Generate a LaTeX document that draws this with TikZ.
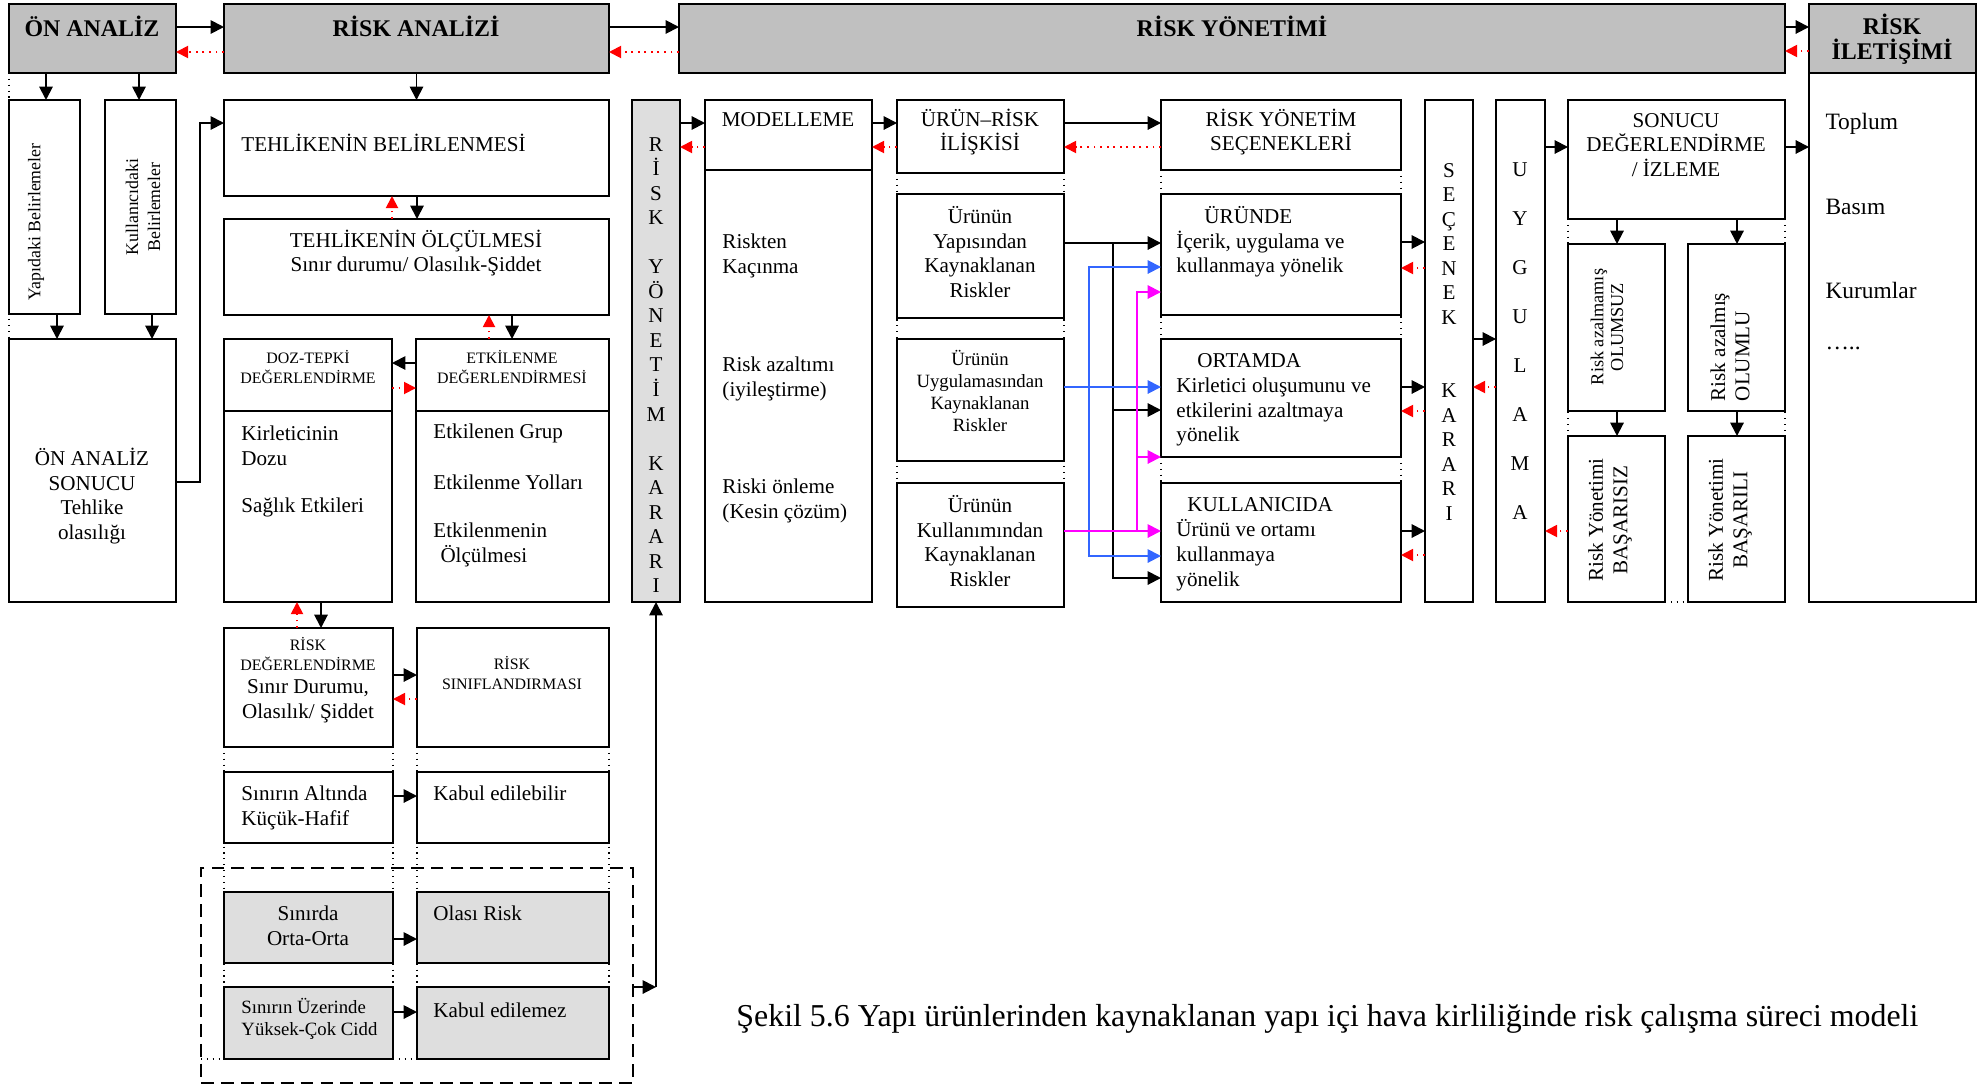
\documentclass[tikz,border=0pt]{standalone}
\usepackage{fontspec}
\setmainfont{Liberation Serif}
\usetikzlibrary{arrows.meta}
\definecolor{gri}{RGB}{192,192,192}
\definecolor{nokta}{RGB}{222,222,222}
\definecolor{mavi}{RGB}{51,102,255}
\definecolor{pembe}{RGB}{255,0,255}

\begin{document}
\begin{tikzpicture}[x=0.015cm, y=-0.015cm,
    kutu/.style={draw, line width=1pt, fill=white, inner sep=0pt, outer sep=0pt, anchor=north west},
    boyut/.style 2 args={minimum width=#1*0.015cm, minimum height=#2*0.015cm},
    baslik/.style={kutu, fill=gri, line width=1.15pt},
    golge/.style={kutu, fill=nokta},
    izgara/.style={dotted, line width=0.5pt},
    ok/.style={-{Triangle[length=0.2cm, width=0.2cm]}, line width=0.8pt},
    iki/.style={{Triangle[length=0.2cm, width=0.2cm]}-{Triangle[length=0.2cm, width=0.2cm]}, line width=0.8pt},
    geri/.style={-{Triangle[length=0.18cm, width=0.18cm]}, red, dotted, line width=0.8pt},
    yazi/.style={inner sep=0pt, align=left, font=\fontsize{9}{10.6}\selectfont},
    yazi8/.style={yazi, font=\fontsize{8}{9.4}\selectfont},
    yazi10/.style={yazi, font=\fontsize{10}{12}\selectfont},
    orta/.style={yazi, align=center},
    orta8/.style={orta, font=\fontsize{8}{9.3}\selectfont},
    kucuk/.style={orta, font=\fontsize{6.8}{8.2}\selectfont},
    kalin/.style={orta, font=\fontsize{10.2}{10.6}\selectfont\bfseries},
    dondur/.style={orta, rotate=90, font=\fontsize{7.8}{8.5}\selectfont},
    dondur9/.style={orta, rotate=90, font=\fontsize{9}{10.4}\selectfont},
    harf/.style={inner sep=0pt, anchor=base, font=\fontsize{9}{10.6}\selectfont}]

    \useasboundingbox (0,0) rectangle (1984,1087);

    % kutular
    \node[baslik, boyut={167}{69}] (onanaliz) at (9,4) {};
    \node[baslik, boyut={385}{69}] (riskanalizi) at (224,4) {};
    \node[baslik, boyut={1106}{69}] (riskyonetimi) at (679,4) {};
    \node[baslik, boyut={167}{69}] (iletbaslik) at (1809,4) {};
    \node[kutu, boyut={167}{529}] (iletgovde) at (1809,73) {};

    \draw[izgara] (onanaliz.south west) -- (9,339);
    \draw[izgara] (897,173) -- (897,483);
    \draw[izgara] (1064,173) -- (1064,483);
    \draw[izgara] (1161,170) -- (1161,483);
    \draw[izgara] (1401,170) -- (1401,483);
    \draw[izgara] (1568,219) -- (1568,436);
    \draw[izgara] (1785,219) -- (1785,436);
    \draw[izgara] (1665,602) -- (1688,602);
    \draw[izgara] (224,747) -- (224,987);
    \draw[izgara] (393,747) -- (393,987);
    \draw[izgara] (417,747) -- (417,987);
    \draw[izgara] (609,747) -- (609,987);
    \draw[izgara] (201,1059) -- (224,1059);
    \draw[izgara] (393,1059) -- (417,1059);

    \node[kutu, boyut={71}{214}] (yapidaki) at (9,100) {};
    \node[kutu, boyut={71}{214}] (kullanici) at (105,100) {};
    \node[kutu, boyut={167}{263}] (onsonuc) at (9,339) {};
    \node[kutu, boyut={385}{96}] (belirleme) at (224,100) {};
    \node[kutu, boyut={385}{96}] (olcum) at (224,219) {};
    \node[kutu, boyut={168}{72}] (dozbas) at (224,339) {};
    \node[kutu, boyut={168}{191}] (dozgovde) at (224,411) {};
    \node[kutu, boyut={193}{72}] (etkibas) at (416,339) {};
    \node[kutu, boyut={193}{191}] (etkigovde) at (416,411) {};
    \node[kutu, boyut={169}{119}] (riskdeg) at (224,628) {};
    \node[kutu, boyut={192}{119}] (risksinif) at (417,628) {};
    \node[kutu, boyut={169}{71}] (altinda) at (224,772) {};
    \node[kutu, boyut={192}{71}] (kabul) at (417,772) {};
    \node[kutu, fill=none, dash pattern=on 5.5pt off 3pt, boyut={432}{215}] (cerceve) at (201,868) {};
    \node[golge, boyut={169}{71}] (sinirda) at (224,892) {};
    \node[golge, boyut={192}{71}] (olasi) at (417,892) {};
    \node[golge, boyut={169}{72}] (uzerinde) at (224,987) {};
    \node[golge, boyut={192}{72}] (kabulno) at (417,987) {};
    \node[golge, boyut={48}{502}] (rykarar) at (632,100) {};
    \node[kutu, boyut={167}{70}] (modbas) at (705,100) {};
    \node[kutu, boyut={167}{432}] (modgovde) at (705,170) {};
    \node[kutu, boyut={167}{73}] (urunrisk) at (897,100) {};
    \node[kutu, boyut={167}{124}] (yapisindan) at (897,194) {};
    \node[kutu, boyut={167}{122}] (uygulamasindan) at (897,339) {};
    \node[kutu, boyut={167}{124}] (kullanimindan) at (897,483) {};
    \node[kutu, boyut={240}{70}] (secenekler) at (1161,100) {};
    \node[kutu, boyut={240}{121}] (urunde) at (1161,194) {};
    \node[kutu, boyut={240}{118}] (ortamda) at (1161,339) {};
    \node[kutu, boyut={240}{119}] (kullanicida) at (1161,483) {};
    \node[kutu, boyut={48}{502}] (secenekkarar) at (1425,100) {};
    \node[kutu, boyut={49}{502}] (uygulama) at (1496,100) {};
    \node[kutu, boyut={217}{119}] (sonucu) at (1568,100) {};
    \node[kutu, boyut={97}{167}] (olumsuz) at (1568,244) {};
    \node[kutu, boyut={97}{167}] (olumlu) at (1688,244) {};
    \node[kutu, boyut={97}{166}] (basarisiz) at (1568,436) {};
    \node[kutu, boyut={97}{166}] (basarili) at (1688,436) {};

    % yazilar
    \node[kalin] (tonanaliz) at (92,26) {ÖN ANALİZ};
    \node[kalin] (triskanalizi) at (416,26) {RİSK ANALİZİ};
    \node[kalin] (triskyonetimi) at (1232,26) {RİSK YÖNETİMİ};
    \node[kalin] (tilet) at (1892,39) {RİSK\\İLETİŞİMİ};
    \node[orta, rotate=90, font=\fontsize{7.6}{9.4}\selectfont] (tyapidaki) at (36,222) {Yapıdaki Belirlemeler};
    \node[orta, rotate=90, font=\fontsize{7.6}{9.4}\selectfont] (tkullanici) at (143,207) {Kullanıcıdaki\\Belirlemeler};
    \node[orta] (tonsonuc) at (92,496) {ÖN ANALİZ\\SONUCU\\Tehlike\\olasılığı};
    \node[yazi, anchor=west] (tbelirleme) at (241,143) {TEHLİKENİN BELİRLENMESİ};
    \node[orta] (tolcum) at (416,253) {TEHLİKENİN ÖLÇÜLMESİ\\Sınır durumu/ Olasılık-Şiddet};
    \node[kucuk] (tdoz) at (308,367) {DOZ-TEPKİ\\DEĞERLENDİRME};
    \node[kucuk] (tetki) at (512,367) {ETKİLENME\\DEĞERLENDİRMESİ};
    \node[yazi, anchor=west] (tkirletici) at (241,446) {Kirleticinin\\Dozu};
    \node[yazi, anchor=west] (tsaglik) at (241,507) {Sağlık Etkileri};
    \node[yazi, anchor=west] (tgrup) at (433,433) {Etkilenen Grup};
    \node[yazi, anchor=west] (tyol) at (433,482) {Etkilenme Yolları};
    \node[yazi, anchor=west] (tolculme) at (433,545) {Etkilenmenin\\\hspace*{3pt}Ölçülmesi};
    \node[kucuk] (triskdeg) at (308,654) {RİSK\\DEĞERLENDİRME};
    \node[orta] (tsinir) at (308,701) {Sınır Durumu,\\Olasılık/ Şiddet};
    \node[kucuk] (tsinif) at (512,673) {RİSK\\SINIFLANDIRMASI};
    \node[yazi, anchor=west] (taltinda) at (241,808) {Sınırın Altında\\Küçük-Hafif};
    \node[yazi, anchor=west] (tkabul) at (433,793) {Kabul edilebilir};
    \node[orta] (tsinirda) at (308,926) {Sınırda\\Orta-Orta};
    \node[yazi, anchor=west] (tolasi) at (433,913) {Olası Risk};
    \node[yazi8, anchor=west] (tuzerinde) at (241,1019) {Sınırın Üzerinde\\Yüksek-Çok Cidd};
    \node[yazi, anchor=west] (tkabulno) at (433,1010) {Kabul edilemez};
    \node[orta] (tmodelleme) at (788,120) {MODELLEME};
    \node[yazi, anchor=west] (tkacinma) at (722,256) {Riskten\\Kaçınma};
    \node[yazi, anchor=west] (tazaltim) at (722,379) {Risk azaltımı\\(iyileştirme)};
    \node[yazi, anchor=west] (tonleme) at (722,501) {Riski önleme\\(Kesin çözüm)};
    \node[orta] (turunrisk) at (980,132) {ÜRÜN–RİSK\\İLİŞKİSİ};
    \node[orta] (tsecenekler) at (1281,132) {RİSK YÖNETİM\\SEÇENEKLERİ};
    \node[orta] (tyapisindan) at (980,252) {Ürünün\\Yapısından\\Kaynaklanan\\Riskler};
    \node[orta8] (tuygulamasindan) at (980,391) {Ürünün\\Uygulamasından\\Kaynaklanan\\Riskler};
    \node[orta] (tkullanimindan) at (980,541) {Ürünün\\Kullanımından\\Kaynaklanan\\Riskler};
    \node[yazi, anchor=west] (turunde) at (1204,215) {ÜRÜNDE};
    \node[yazi, anchor=west] (ticerik) at (1176,254) {İçerik, uygulama ve\\kullanmaya yönelik};
    \node[yazi, anchor=west] (tortamda) at (1197,361) {ORTAMDA};
    \node[yazi, anchor=west] (tkirlet) at (1176,412) {Kirletici oluşumunu ve\\etkilerini azaltmaya\\yönelik};
    \node[yazi, anchor=west] (tkullanicida) at (1187,505) {KULLANICIDA};
    \node[yazi, anchor=west] (turunu) at (1176,555) {Ürünü ve ortamı\\kullanmaya\\yönelik};
    \node[orta] (tsonucu) at (1676,145) {SONUCU\\DEĞERLENDİRME\\/ İZLEME};
    \node[dondur] (tolumsuz) at (1607,327) {Risk azalmamış\\OLUMSUZ};
    \node[dondur9, align=left] (tolumlu) at (1730,347) {Risk azalmış\\OLUMLU};
    \node[dondur9] (tbasarisiz) at (1610,520) {Risk Yönetimi\\BAŞARISIZ};
    \node[dondur9] (tbasarili) at (1730,520) {Risk Yönetimi\\BAŞARILI};
    \node[yazi10, anchor=west] (ttoplum) at (1825,124) {Toplum};
    \node[yazi10, anchor=west] (tbasim) at (1825,207) {Basım};
    \node[yazi10, anchor=west] (tkurumlar) at (1825,290) {Kurumlar};
    \node[yazi10, anchor=west] (tnokta) at (1825,348) {…..};
    \node[inner sep=0pt, anchor=west, font=\fontsize{13.6}{16}\selectfont] (sekil) at (736,1019) {Şekil 5.6 Yapı ürünlerinden kaynaklanan yapı içi hava kirliliğinde risk çalışma süreci modeli};

    \foreach \h [count=\i] in {R,İ,S,K,,Y,Ö,N,E,T,İ,M,,K,A,R,A,R,I}
        \node[harf] (ryk\i) at (656,{151+(\i-1)*24.55}) {\h};
    \foreach \h [count=\i] in {S,E,Ç,E,N,E,K,,,K,A,R,A,R,I}
        \node[harf] (sk\i) at (1449,{177+(\i-1)*24.5}) {\h};
    \foreach \h [count=\i] in {U,Y,G,U,L,A,M,A}
        \node[harf] (uy\i) at (1520,{176+(\i-1)*49.1}) {\h};

    % oklar
    \draw[ok] (onanaliz.east |- 0,27) -- (riskanalizi.west |- 0,27);
    \draw[geri] (riskanalizi.west |- 0,52) -- (onanaliz.east |- 0,52);
    \draw[ok] (riskanalizi.east |- 0,27) -- (riskyonetimi.west |- 0,27);
    \draw[geri] (riskyonetimi.west |- 0,52) -- (riskanalizi.east |- 0,52);
    \draw[ok] (riskyonetimi.east |- 0,27) -- (iletbaslik.west |- 0,27);
    \draw[geri] (iletbaslik.west |- 0,51) -- (riskyonetimi.east |- 0,51);
    \draw[ok] (onanaliz.south -| 46,0) -- (yapidaki.north -| 46,0);
    \draw[ok] (onanaliz.south -| 139,0) -- (kullanici.north -| 139,0);
    \draw[ok] (yapidaki.south -| 57,0) -- (onsonuc.north -| 57,0);
    \draw[ok] (kullanici.south -| 152,0) -- (onsonuc.north -| 152,0);
    \coordinate (donus) at (200,123);
    \draw[ok] (onsonuc.east |- 0,482) -| (donus) -- (belirleme.west |- donus);
    \draw[ok] (riskanalizi.south) -- (belirleme.north);
    \draw[ok] (belirleme.south -| 417,0) -- (olcum.north -| 417,0);
    \draw[geri] (olcum.north -| 392,0) -- (belirleme.south -| 392,0);
    \draw[ok] (olcum.south -| 512,0) -- (etkibas.north -| 512,0);
    \draw[geri] (etkibas.north -| 489,0) -- (olcum.south -| 489,0);
    \draw[ok] (etkibas.west |- 0,363) -- (dozbas.east |- 0,363);
    \draw[geri] (dozbas.east |- 0,388) -- (etkibas.west |- 0,388);
    \draw[ok] (dozgovde.south -| 321,0) -- (riskdeg.north -| 321,0);
    \draw[geri] (riskdeg.north -| 297,0) -- (dozgovde.south -| 297,0);
    \draw[ok] (riskdeg.east |- 0,675) -- (risksinif.west |- 0,675);
    \draw[geri] (risksinif.west |- 0,699) -- (riskdeg.east |- 0,699);
    \draw[ok] (altinda.east |- 0,796) -- (kabul.west |- 0,796);
    \draw[ok] (sinirda.east |- 0,939) -- (olasi.west |- 0,939);
    \draw[ok] (uzerinde.east |- 0,1012) -- (kabulno.west |- 0,1012);
    \coordinate (kose) at (656,987);
    \draw[ok] (cerceve.east |- kose) -- (kose);
    \draw[ok] (kose) -- (rykarar.south);
    \draw[ok] (rykarar.east |- 0,123) -- (modbas.west |- 0,123);
    \draw[geri] (modbas.west |- 0,147) -- (rykarar.east |- 0,147);
    \draw[ok] (modbas.east |- 0,123) -- (urunrisk.west |- 0,123);
    \draw[geri] (urunrisk.west |- 0,147) -- (modbas.east |- 0,147);
    \draw[ok] (urunrisk.east |- 0,123) -- (secenekler.west |- 0,123);
    \draw[geri] (secenekler.west |- 0,147) -- (urunrisk.east |- 0,147);

    \coordinate (siyah) at (1113,243);
    \draw[ok] (yapisindan.east |- siyah) -- (urunde.west |- siyah);
    \draw[ok] (siyah) |- (ortamda.west |- 0,410);
    \draw[ok] (siyah) |- (kullanicida.west |- 0,578);
    \coordinate (mavidik) at (1089,556);
    \draw[ok, mavi] (uygulamasindan.east |- 0,387) -- (ortamda.west |- 0,387);
    \draw[iki, mavi] (urunde.west |- 0,267) -| (mavidik) -- (kullanicida.west |- mavidik);
    \coordinate (pembedik) at (1137,531);
    \draw[ok, pembe] (kullanimindan.east |- pembedik) -- (kullanicida.west |- pembedik);
    \draw[ok, pembe] (pembedik) |- (urunde.west |- 0,292);
    \draw[ok, pembe] (pembedik |- 0,457) -- (ortamda.west |- 0,457);

    \draw[ok] (urunde.east |- 0,242) -- (secenekkarar.west |- 0,242);
    \draw[geri] (secenekkarar.west |- 0,268) -- (urunde.east |- 0,268);
    \draw[ok] (ortamda.east |- 0,387) -- (secenekkarar.west |- 0,387);
    \draw[geri] (secenekkarar.west |- 0,411) -- (ortamda.east |- 0,411);
    \draw[ok] (kullanicida.east |- 0,531) -- (secenekkarar.west |- 0,531);
    \draw[geri] (secenekkarar.west |- 0,555) -- (kullanicida.east |- 0,555);
    \draw[ok] (secenekkarar.east |- 0,339) -- (uygulama.west |- 0,339);
    \draw[geri] (uygulama.west |- 0,387) -- (secenekkarar.east |- 0,387);
    \draw[ok] (uygulama.east |- 0,147) -- (sonucu.west |- 0,147);
    \draw[geri] (basarisiz.west |- 0,531) -- (uygulama.east |- 0,531);
    \draw[ok] (sonucu.east |- 0,147) -- (iletgovde.west |- 0,147);
    \draw[ok] (sonucu.south -| 1617,0) -- (olumsuz.north -| 1617,0);
    \draw[ok] (sonucu.south -| 1737,0) -- (olumlu.north -| 1737,0);
    \draw[ok] (olumsuz.south -| 1617,0) -- (basarisiz.north -| 1617,0);
    \draw[ok] (olumlu.south -| 1737,0) -- (basarili.north -| 1737,0);
\end{tikzpicture}
\end{document}
